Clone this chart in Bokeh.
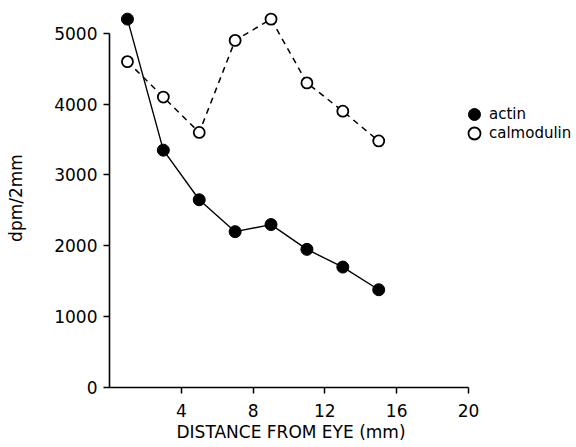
from bokeh.plotting import figure
from bokeh.models import FixedTicker, Legend, LegendItem, Range1d, Title
from bokeh.embed import file_html
from bokeh.resources import INLINE

# data
distance = [1, 3, 5, 7, 9, 11, 13, 15]
actin = [5200, 3350, 2650, 2200, 2300, 1950, 1700, 1380]
calmodulin = [4600, 4100, 3600, 4900, 5200, 4300, 3900, 3480]
x_ticks = [4, 8, 12, 16, 20]
y_ticks = [0, 1000, 2000, 3000, 4000, 5000]

FONT = "DejaVu Sans"

p = figure(frame_width=467, frame_height=379,
           x_range=Range1d(0, 26.02), y_range=Range1d(0, 5350),
           output_backend="svg", toolbar_location=None,
           min_border_left=109, min_border_top=8, min_border_bottom=0,
           min_border_right=0)
p.outline_line_color = None
p.xgrid.visible = False
p.ygrid.visible = False
p.background_fill_color = "white"

# lines
p.line(distance, calmodulin, line_color="black", line_width=1.5, line_dash="6 5")
p.line(distance, actin, line_color="black", line_width=1.4)
# markers
r_cal = p.scatter(distance, calmodulin, size=11, marker="circle",
                  fill_color="white", line_color="black", line_width=1.8)
r_act = p.scatter(distance, actin, size=12, marker="circle",
                  fill_color="black", line_color="black")

for ax in (p.xaxis[0], p.yaxis[0]):
    ax.axis_line_width = 1.6
    ax.major_tick_line_width = 1.5
    ax.major_tick_in = 0
    ax.major_tick_out = 6
    ax.minor_tick_line_color = None
    ax.major_label_text_font = FONT
    ax.major_label_text_font_size = "17px"
    ax.major_label_text_color = "black"
    ax.axis_label_text_font = FONT
    ax.axis_label_text_font_size = "17px"
    ax.axis_label_text_font_style = "normal"
    ax.axis_label_text_color = "black"

p.xaxis.ticker = FixedTicker(ticks=x_ticks)
p.xaxis.bounds = (0, 20)
p.xaxis.major_label_standoff = 10

p.yaxis.ticker = FixedTicker(ticks=y_ticks)
p.yaxis.bounds = (0, 5000)
p.yaxis.axis_label = "dpm/2mm"
p.yaxis.major_label_standoff = 6
p.yaxis.axis_label_standoff = 25

xtitle = Title(text="DISTANCE FROM EYE (mm)", align="left", offset=67,
               text_font=FONT, text_font_size="17px", text_font_style="normal",
               text_color="black", standoff=0)
p.add_layout(xtitle, "below")

legend_style = dict(orientation="vertical", glyph_width=30, glyph_height=30,
                    spacing=0, label_standoff=-2, padding=0, margin=0,
                    border_line_color=None, background_fill_alpha=0,
                    label_text_font=FONT, label_text_font_size="15px",
                    label_text_color="black")
legend_actin = Legend(items=[LegendItem(label="actin", renderers=[r_act])],
                      location=(350, 258), **legend_style)
legend_cal = Legend(items=[LegendItem(label="calmodulin", renderers=[r_cal])],
                    location=(350, 239), **legend_style)
p.add_layout(legend_actin)
p.add_layout(legend_cal)

open("out.html", "w").write(file_html(p, INLINE))
